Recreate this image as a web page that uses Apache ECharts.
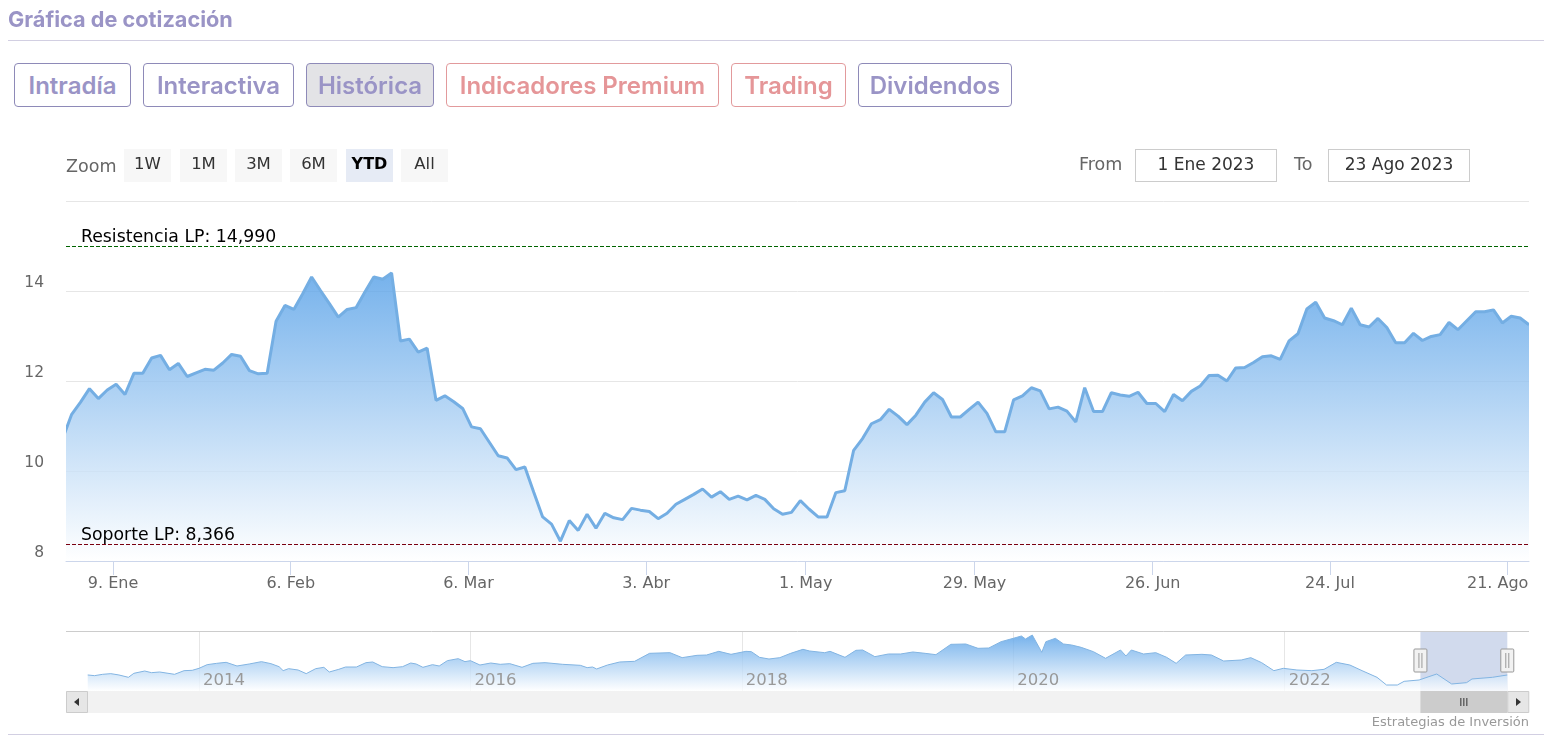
<!DOCTYPE html>
<html>
<head>
<meta charset="utf-8">
<title>Gráfica de cotización</title>
<script src="https://cdn.jsdelivr.net/npm/echarts@6/dist/echarts.min.js"></script>
<style>
  html, body { margin: 0; padding: 0; background: #fff; }
  #page { position: relative; width: 1566px; height: 753px; overflow: hidden; font-family: "DejaVu Sans", sans-serif; }
  #chart { position: absolute; left: 0; top: 0; width: 1566px; height: 753px; }
  #title { position: absolute; left: 8px; top: 5px; font: 700 21.7px/28px Inter, sans-serif; color: #9a94c6; }
  .rule { position: absolute; left: 8px; width: 1536px; height: 1px; background: #d2cfe2; }
  .tab { position: absolute; top: 63px; height: 42px; box-sizing: content-box; border: 1px solid #8e8ab8; border-radius: 4px;
         font: 600 24px/44px Inter, sans-serif; color: #9a94c6; text-align: center; background: #fff; }
  .tab.on { background: #e3e3e6; }
  .tab.red { border-color: #e29a9c; color: #e59698; }
  .btn { position: absolute; top: 149px; width: 47px; height: 33px; line-height: 30px; background: #f7f7f7; color: #333; font-size: 16.5px; text-align: center; }
  .btn.on { background: #e6ebf5; color: #000; font-weight: 700; font-size: 16px; }
  .lab { position: absolute; top: 153px; color: #666; font-size: 17.5px; line-height: 26px; }
  .date { position: absolute; top: 149px; width: 140px; height: 31px; border: 1px solid #ccc; color: #333; font-size: 17px; line-height: 28px; text-align: center; }
</style>
</head>
<body>
<div id="page">
  <div id="chart"></div>
  <div id="title">Gráfica de cotización</div>
  <div class="rule" style="top:40px"></div>
  <div class="rule" style="top:734px"></div>
  <div class="tab" style="left:14px;width:115px">Intradía</div>
  <div class="tab" style="left:143px;width:149px">Interactiva</div>
  <div class="tab on" style="left:306px;width:126px">Histórica</div>
  <div class="tab red" style="left:446px;width:271px">Indicadores Premium</div>
  <div class="tab red" style="left:731px;width:113px">Trading</div>
  <div class="tab" style="left:858px;width:152px">Dividendos</div>
  <div class="lab" style="left:66px">Zoom</div>
  <div class="btn" style="left:124px">1W</div>
  <div class="btn" style="left:180px">1M</div>
  <div class="btn" style="left:235px">3M</div>
  <div class="btn" style="left:290px">6M</div>
  <div class="btn on" style="left:346px">YTD</div>
  <div class="btn" style="left:401px">All</div>
  <div class="lab" style="left:1079px;top:151px">From</div>
  <div class="date" style="left:1135px">1 Ene 2023</div>
  <div class="lab" style="left:1294px;top:151px">To</div>
  <div class="date" style="left:1328px">23 Ago 2023</div>
</div>
<script>
// cierres diarios 2023 (sin fines de semana)
const priceValues = [
  10.73, 11.26, 11.53, 11.83, 11.61, 11.80, 11.93, 11.70, 12.17, 12.17,
  12.51, 12.57, 12.25, 12.39, 12.10, 12.18, 12.26, 12.24, 12.40, 12.59,
  12.55, 12.23, 12.16, 12.17, 13.33, 13.68, 13.59, 13.94, 14.31, 14.01,
  13.72, 13.42, 13.59, 13.63, 13.98, 14.31, 14.26, 14.40, 12.89, 12.93,
  12.64, 12.73, 11.57, 11.67, 11.54, 11.39, 10.98, 10.94, 10.64, 10.34,
  10.29, 10.03, 10.09, 9.53, 8.98, 8.82, 8.44, 8.90, 8.68, 9.04,
  8.73, 9.06, 8.96, 8.92, 9.17, 9.13, 9.10, 8.94, 9.06, 9.26,
  9.37, 9.48, 9.60, 9.42, 9.54, 9.37, 9.44, 9.36, 9.46, 9.37,
  9.16, 9.04, 9.08, 9.34, 9.15, 8.98, 8.98, 9.52, 9.56, 10.46,
  10.72, 11.05, 11.14, 11.37, 11.22, 11.03, 11.24, 11.53, 11.74, 11.59,
  11.20, 11.20, 11.37, 11.53, 11.28, 10.87, 10.87, 11.58, 11.67, 11.85,
  11.78, 11.38, 11.42, 11.33, 11.09, 11.85, 11.32, 11.32, 11.74, 11.69,
  11.66, 11.75, 11.50, 11.50, 11.32, 11.70, 11.56, 11.77, 11.89, 12.12,
  12.13, 12.00, 12.29, 12.30, 12.41, 12.54, 12.56, 12.48, 12.89, 13.05,
  13.60, 13.75, 13.40, 13.34, 13.25, 13.62, 13.25, 13.20, 13.39, 13.19,
  12.85, 12.85, 13.06, 12.90, 12.99, 13.03, 13.30, 13.14, 13.34, 13.54,
  13.54, 13.58, 13.29, 13.44, 13.40, 13.25
];
const tickIndex = [5.65, 25.65, 45.65, 65.65, 83.6, 102.6, 122.65, 142.6, 162.6];
const tickLabels = ['9. Ene', '6. Feb', '6. Mar', '3. Abr', '1. May', '29. May', '26. Jun', '24. Jul', '21. Ago'];
const resistance = 14.99;
const support = 8.366;

// navegador: historico completo
const navYears = [
  2013.18, 2013.23, 2013.29, 2013.35, 2013.41, 2013.48, 2013.52, 2013.60, 2013.65, 2013.71,
  2013.82, 2013.89, 2013.95, 2014.00, 2014.06, 2014.13, 2014.20, 2014.28, 2014.37, 2014.46,
  2014.53, 2014.59, 2014.62, 2014.66, 2014.73, 2014.79, 2014.86, 2014.92, 2014.96, 2015.03,
  2015.08, 2015.16, 2015.23, 2015.28, 2015.35, 2015.43, 2015.50, 2015.56, 2015.60, 2015.65,
  2015.72, 2015.77, 2015.83, 2015.91, 2015.96, 2016.00, 2016.07, 2016.15, 2016.22, 2016.29,
  2016.38, 2016.46, 2016.55, 2016.68, 2016.81, 2016.86, 2016.90, 2016.93, 2017.01, 2017.10,
  2017.21, 2017.32, 2017.47, 2017.56, 2017.67, 2017.74, 2017.83, 2017.92, 2018.03, 2018.07,
  2018.13, 2018.20, 2018.28, 2018.36, 2018.45, 2018.50, 2018.61, 2018.65, 2018.76, 2018.84,
  2018.89, 2018.98, 2019.08, 2019.17, 2019.26, 2019.35, 2019.43, 2019.54, 2019.65, 2019.74,
  2019.82, 2019.91, 2020.00, 2020.06, 2020.09, 2020.14, 2020.21, 2020.24, 2020.31, 2020.37,
  2020.43, 2020.50, 2020.59, 2020.68, 2020.79, 2020.83, 2020.87, 2020.96, 2021.05, 2021.13,
  2021.20, 2021.27, 2021.39, 2021.46, 2021.55, 2021.68, 2021.75, 2021.83, 2021.92, 2021.99,
  2022.09, 2022.20, 2022.29, 2022.38, 2022.48, 2022.57, 2022.68, 2022.75, 2022.83, 2022.88,
  2022.99, 2023.12, 2023.23, 2023.34, 2023.38, 2023.53, 2023.64
];
const navValues = [
  13.27, 12.91, 13.62, 13.98, 13.27, 12.02, 14.16, 15.40, 14.51, 14.87,
  13.62, 15.58, 15.76, 16.83, 18.79, 19.50, 20.04, 18.08, 19.15, 20.40,
  19.33, 17.72, 15.58, 16.65, 15.94, 13.98, 16.65, 17.37, 14.87, 16.30,
  17.54, 17.54, 19.86, 20.22, 17.72, 17.19, 17.72, 19.68, 19.15, 17.37,
  18.79, 18.08, 20.93, 22.00, 20.40, 20.93, 18.61, 19.68, 18.97, 19.33,
  17.37, 19.50, 19.86, 18.97, 18.44, 17.19, 17.54, 16.48, 18.61, 20.22,
  20.58, 24.86, 25.21, 22.54, 23.79, 23.96, 25.92, 24.32, 25.92, 25.75,
  22.72, 21.82, 22.54, 24.86, 27.00, 26.10, 25.20, 25.92, 22.72, 26.46,
  26.64, 23.07, 24.50, 24.50, 25.57, 24.86, 24.14, 29.67, 29.85, 27.53,
  27.71, 31.09, 32.88, 34.13, 32.52, 34.66, 25.39, 31.09, 32.88, 29.85,
  29.31, 28.06, 25.75, 22.18, 26.64, 23.43, 26.64, 24.50, 25.21, 22.72,
  19.50, 23.96, 24.32, 23.96, 20.75, 21.29, 22.54, 19.86, 15.58, 16.83,
  15.94, 15.58, 16.30, 20.04, 18.61, 15.58, 12.02, 7.91, 7.91, 9.88,
  10.59, 13.80, 8.45, 9.16, 11.13, 12.02, 13.27
];
const navYearTicks = [2014, 2016, 2018, 2020, 2022];
const selectedRange = [2023.0, 2023.64];

const chartFont = '"DejaVu Sans", sans-serif';
const areaFill = new echarts.graphic.LinearGradient(0, 0, 0, 1, [
  { offset: 0, color: 'rgba(84,159,231,0.8)' },
  { offset: 1, color: 'rgba(255,255,255,0.8)' }
]);

let chart = echarts.init(document.getElementById('chart'), null, { renderer: 'canvas' });

let levelLine = (value, text, color) => ({
  yAxis: value,
  lineStyle: { color: color, type: [4, 2], width: 1 },
  label: {
    show: true, position: 'insideStartTop', formatter: text, color: '#000',
    fontFamily: chartFont, fontSize: 17.3, distance: 0, padding: [0, 0, 0, 15]
  }
});

chart.setOption({
  animation: false,
  grid: [
    { left: 66, right: 37, top: 201, height: 360 },
    { left: 66, right: 37, top: 631, height: 60 }
  ],
  xAxis: [
    {
      type: 'value', gridIndex: 0, min: 0.36, max: 165,
      splitLine: { show: false },
      axisLine: { show: true, lineStyle: { color: '#ccd6eb' } },
      axisTick: { show: true, length: 14, customValues: tickIndex, lineStyle: { color: '#ccd6eb' } },
      axisLabel: {
        customValues: tickIndex, color: '#666', fontFamily: chartFont, fontSize: 16, margin: 15,
        showMinLabel: true, showMaxLabel: true, hideOverlap: false,
        formatter: (v) => {
          let label = tickLabels[tickIndex.indexOf(v)];
          return label === '21. Ago' ? '{last|' + label + '}' : label;
        },
        rich: { last: { color: '#666', fontFamily: chartFont, fontSize: 16, padding: [0, 20, 0, 0] } }
      }
    },
    {
      type: 'value', gridIndex: 1, min: 2013.02, max: 2023.8, z: 3,
      axisLine: { show: false },
      axisTick: { show: false, customValues: navYearTicks },
      splitLine: { show: true, lineStyle: { color: '#e6e6e6' } },
      axisLabel: {
        customValues: navYearTicks, inside: true, margin: 2, align: 'left', color: '#999',
        fontFamily: chartFont, fontSize: 16.5, padding: [0, 0, 0, 4],
        formatter: (v) => String(v)
      }
    }
  ],
  yAxis: [
    {
      type: 'value', gridIndex: 0, min: 8, max: 16, interval: 2,
      axisLine: { show: false }, axisTick: { show: false },
      splitLine: { lineStyle: { color: '#e6e6e6' } },
      axisLabel: {
        color: '#666', fontFamily: chartFont, fontSize: 15.5, margin: 22, verticalAlign: 'bottom',
        formatter: (v) => (v === 16 ? '' : String(v))
      }
    },
    {
      type: 'value', gridIndex: 1, min: 4.7, max: 36.8,
      show: false, splitLine: { show: false }
    }
  ],
  series: [
    {
      type: 'line', xAxisIndex: 0, yAxisIndex: 0,
      data: priceValues.map((v, i) => [i, v]),
      showSymbol: false,
      lineStyle: { color: '#74aee3', width: 3 },
      areaStyle: { color: areaFill, origin: 'start', opacity: 1 },
      markLine: {
        silent: true, symbol: 'none', animation: false,
        data: [levelLine(resistance, 'Resistencia LP: 14,990', '#006400'), levelLine(support, 'Soporte LP: 8,366', '#7a0010')]
      }
    },
    {
      type: 'line', xAxisIndex: 1, yAxisIndex: 1,
      data: navYears.map((y, i) => [y, navValues[i]]),
      showSymbol: false,
      lineStyle: { color: '#82b4e2', width: 1 },
      areaStyle: { color: areaFill, origin: 'start', opacity: 1 },
      markArea: {
        silent: true,
        itemStyle: { color: 'rgba(102,133,194,0.3)' },
        data: [[{ xAxis: selectedRange[0] }, { xAxis: selectedRange[1] }]]
      }
    }
  ]
});

// barra de desplazamiento y tiradores, colocados sobre el rango seleccionado
let handleX = selectedRange.map((y) => chart.convertToPixel({ xAxisIndex: 1 }, y));
let bars = (cx, cy, h) => [-3, 0, 3].map((d) => ({
  type: 'line', z: 20, shape: { x1: cx + d, y1: cy - h, x2: cx + d, y2: cy + h }, style: { stroke: '#333', lineWidth: 1 }
}));
let handle = (cx) => [
  { type: 'rect', z: 20, shape: { x: cx - 6.5, y: 649, width: 13, height: 23, r: 1 }, style: { fill: '#f2f2f2', stroke: '#999', lineWidth: 1 } },
  { type: 'line', z: 21, shape: { x1: cx - 1.5, y1: 653, x2: cx - 1.5, y2: 668 }, style: { stroke: '#999', lineWidth: 1 } },
  { type: 'line', z: 21, shape: { x1: cx + 1.5, y1: 653, x2: cx + 1.5, y2: 668 }, style: { stroke: '#999', lineWidth: 1 } }
];

chart.setOption({
  graphic: [
    // el recorte de la serie deja pasar el grosor de linea por los lados
    { type: 'rect', z: 4, shape: { x: 58, y: 202, width: 8, height: 358 }, style: { fill: '#fff' } },
    { type: 'rect', z: 4, shape: { x: 1529, y: 202, width: 8, height: 358 }, style: { fill: '#fff' } },
    { type: 'line', z: 5, shape: { x1: 66, y1: 631.5, x2: 1529, y2: 631.5 }, style: { stroke: '#cccccc', lineWidth: 1 } },
    { type: 'rect', z: 10, shape: { x: 66, y: 691, width: 1463, height: 22 }, style: { fill: '#f2f2f2' } },
    { type: 'rect', z: 11, shape: { x: 66.5, y: 691.5, width: 21, height: 21 }, style: { fill: '#e6e6e6', stroke: '#cccccc', lineWidth: 1 } },
    { type: 'polygon', z: 12, shape: { points: [[79, 698], [79, 706], [74, 702]] }, style: { fill: '#333' } },
    { type: 'rect', z: 11, shape: { x: handleX[0], y: 691, width: handleX[1] - handleX[0], height: 22 }, style: { fill: '#cccccc' } },
    { type: 'rect', z: 11, shape: { x: handleX[1] + 0.5, y: 691.5, width: 21, height: 21 }, style: { fill: '#e6e6e6', stroke: '#cccccc', lineWidth: 1 } },
    { type: 'polygon', z: 12, shape: { points: [[1516, 698], [1516, 706], [1521, 702]] }, style: { fill: '#333' } },
    ...bars((handleX[0] + handleX[1]) / 2, 702, 4),
    ...handle(handleX[0]),
    ...handle(handleX[1]),
    {
      type: 'text', z: 20, x: 1529, y: 723,
      style: { text: 'Estrategias de Inversión', fill: '#999', font: '13px ' + chartFont, textAlign: 'right', textVerticalAlign: 'middle' }
    }
  ]
});
</script>
</body>
</html>
